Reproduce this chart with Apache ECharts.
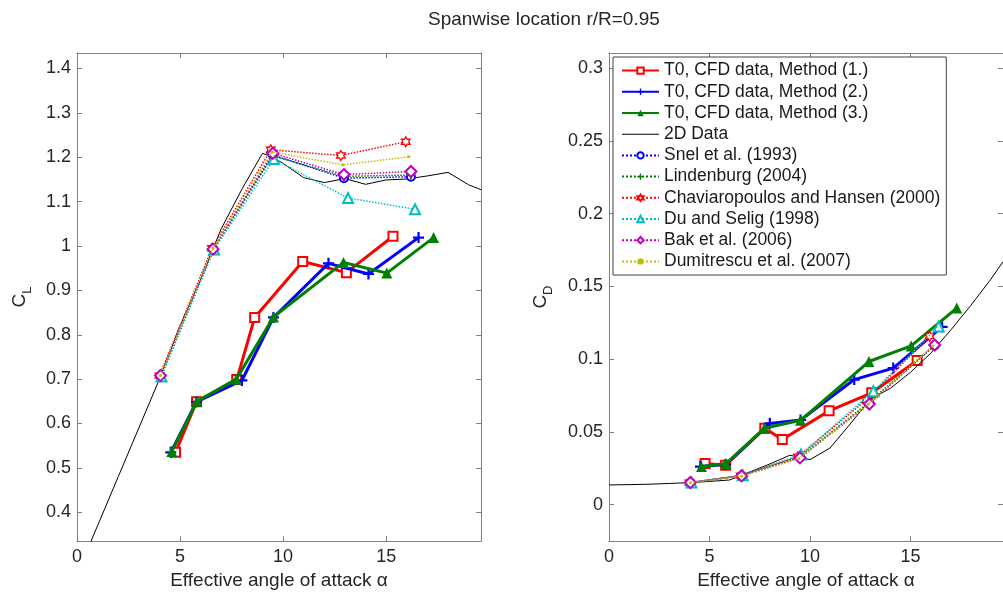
<!DOCTYPE html>
<html>
<head>
<meta charset="utf-8">
<script src="https://cdn.jsdelivr.net/npm/echarts@6/dist/echarts.min.js"></script>
<style>
  html, body { margin: 0; padding: 0; background: #fff; }
  #chart { width: 1003px; height: 595px; }
</style>
</head>
<body>
<div id="chart"></div>
<script>
// ---- Text ----
const titleText = 'Spanwise location r/R=0.95';
const xName = 'Effective angle of attack \u03b1';
const names = [
  'T0, CFD data, Method (1.)',
  'T0, CFD data, Method (2.)',
  'T0, CFD data, Method (3.)',
  '2D Data',
  'Snel et al. (1993)',
  'Lindenburg (2004)',
  'Chaviaropoulos and Hansen (2000)',
  'Du and Selig (1998)',
  'Bak et al. (2006)',
  'Dumitrescu et al. (2007)'
];

// ---- Tick values ----
const xTicks = [0, 5, 10, 15];
const clTicks = [0.4, 0.5, 0.6, 0.7, 0.8, 0.9, 1.0, 1.1, 1.2, 1.3, 1.4];
const cdTicks = [0, 0.05, 0.1, 0.15, 0.2, 0.25, 0.3];

// ---- CFD results (three extraction methods) ----
const m1Alpha = [4.78, 5.80, 7.75, 8.62, 10.95, 13.07, 15.33];
const m1Cl    = [0.535, 0.649, 0.699, 0.839, 0.965, 0.940, 1.022];
const m1Cd    = [0.0283, 0.0272, 0.0525, 0.0448, 0.0645, 0.0769, 0.0991];

const m2Alpha = [4.55, 5.80, 8.00, 9.53, 12.20, 14.14, 16.57];
const m2Cl    = [0.535, 0.649, 0.697, 0.839, 0.961, 0.937, 1.019];
const m2Cd    = [0.0262, 0.0276, 0.0559, 0.0582, 0.0860, 0.0939, 0.1222];

const m3Alpha = [4.60, 5.82, 7.73, 9.53, 12.93, 15.03, 17.30];
const m3Cl    = [0.537, 0.650, 0.700, 0.840, 0.963, 0.939, 1.019];
const m3Cd    = [0.0262, 0.0283, 0.0525, 0.0580, 0.0984, 0.1091, 0.1351];

// ---- 2D airfoil polar ----
const alpha2D = [0, 1, 2, 3, 4, 5, 6, 7, 8, 9, 9.5, 10, 11, 12, 13, 14, 15, 16, 17, 18, 19, 19.6];
const cl2D    = [0.26, 0.37, 0.48, 0.59, 0.70, 0.82, 0.925, 1.039, 1.128, 1.209, 1.200, 1.186, 1.154,
                 1.143, 1.152, 1.139, 1.149, 1.151, 1.158, 1.166, 1.138, 1.127];
const cd2D    = [0.0136, 0.0138, 0.0141, 0.0146, 0.0152, 0.0160, 0.0170, 0.0225, 0.0280, 0.0340, 0.0325,
                 0.0310, 0.0390, 0.0555, 0.0725, 0.0800, 0.0910, 0.1040, 0.1200, 0.1370, 0.1550, 0.1670];

// ---- Rotational correction models ----
const snelAlpha = [4.05, 6.60, 9.50, 12.95, 16.20];
const snelCl    = [0.707, 0.993, 1.205, 1.153, 1.156];
const snelCd    = [0.0152, 0.0199, 0.0325, 0.0700, 0.1095];

const lindAlpha = [4.05, 6.60, 9.50, 12.95, 16.20];
const lindCl    = [0.708, 0.994, 1.203, 1.157, 1.160];
const lindCd    = [0.0152, 0.0200, 0.0330, 0.0705, 0.1100];

const chavAlpha = [4.00, 6.55, 9.40, 12.80, 15.95];
const chavCl    = [0.708, 0.995, 1.217, 1.204, 1.235];
const chavCd    = [0.0152, 0.0200, 0.0330, 0.0720, 0.1158];

const duAlpha = [4.10, 6.65, 9.55, 13.15, 16.40];
const duCl    = [0.706, 0.992, 1.196, 1.108, 1.083];
const duCd    = [0.0153, 0.0202, 0.0345, 0.0780, 0.1225];

const bakAlpha = [4.05, 6.60, 9.50, 12.95, 16.20];
const bakCl    = [0.708, 0.993, 1.209, 1.161, 1.168];
const bakCd    = [0.0152, 0.0198, 0.0322, 0.0692, 0.1097];

const dumAlpha = [4.05, 6.60, 9.45, 12.90, 16.10];
const dumCl    = [0.708, 0.995, 1.212, 1.183, 1.201];
const dumCd    = [0.0151, 0.0196, 0.0318, 0.0690, 0.1090];

// ---- Helpers ----
const zip = (xs, ys) => xs.map((x, i) => [x, ys[i]]);
const fmt = v => String(+v.toFixed(3));

const FONT = '"Liberation Sans", Arial, sans-serif';
const AXIS_GRAY = '#7f7f7f';
const TEXT = '#262626';

const PLUS = 'path://M4,0H6V4H10V6H6V10H4V6H0V4H4Z';
const HEXAGRAM = 'path://M0,-10L2.887,-5L8.66,-5L5.774,0L8.66,5L2.887,5L0,10L-2.887,5L-8.66,5L-5.774,0L-8.66,-5L-2.887,-5Z';

// Style of each curve, keyed by legend order
const styles = [
  { color: '#ff0000', width: 3,   type: 'solid',  symbol: 'emptyRect',     size: 9,  border: 2 },
  { color: '#0000ff', width: 3,   type: 'solid',  symbol: PLUS,            size: 11, border: 0 },
  { color: '#008000', width: 3,   type: 'solid',  symbol: 'triangle',      size: 11, border: 0 },
  { color: '#000000', width: 1,   type: 'solid',  symbol: 'none',          size: 0,  border: 0 },
  { color: '#0000ff', width: 1.5, type: 'dotted', symbol: 'emptyCircle',   size: 8,  border: 1.5 },
  { color: '#008000', width: 1.5, type: 'dotted', symbol: PLUS,            size: 9,  border: 0 },
  { color: '#ff0000', width: 1.5, type: 'dotted', symbol: HEXAGRAM,        size: 10, border: 1.3, hollow: true },
  { color: '#00bfbf', width: 1.5, type: 'dotted', symbol: 'emptyTriangle', size: 10, border: 1.5 },
  { color: '#bf00bf', width: 1.5, type: 'dotted', symbol: 'emptyDiamond',  size: 11, border: 1.5 },
  { color: '#bfbf00', width: 1.5, type: 'dotted', symbol: 'circle',        size: 3,  border: 0 }
];

const clData = [
  zip(m1Alpha, m1Cl), zip(m2Alpha, m2Cl), zip(m3Alpha, m3Cl), zip(alpha2D, cl2D),
  zip(snelAlpha, snelCl), zip(lindAlpha, lindCl), zip(chavAlpha, chavCl),
  zip(duAlpha, duCl), zip(bakAlpha, bakCl), zip(dumAlpha, dumCl)
];
const cdData = [
  zip(m1Alpha, m1Cd), zip(m2Alpha, m2Cd), zip(m3Alpha, m3Cd), zip(alpha2D, cd2D),
  zip(snelAlpha, snelCd), zip(lindAlpha, lindCd), zip(chavAlpha, chavCd),
  zip(duAlpha, duCd), zip(bakAlpha, bakCd), zip(dumAlpha, dumCd)
];

function makeSeries(data, axisIndex) {
  return data.map((d, i) => {
    const s = styles[i];
    return {
      name: names[i],
      type: 'line',
      xAxisIndex: axisIndex,
      yAxisIndex: axisIndex,
      data: d,
      symbol: s.symbol,
      symbolSize: s.size,
      symbolKeepAspect: true,
      showSymbol: s.symbol !== 'none',
      clip: true,
      z: 2 + i,
      lineStyle: { color: s.color, width: s.width, type: s.type },
      itemStyle: {
        color: s.hollow ? '#ffffff' : s.color,
        borderColor: s.color,
        borderWidth: s.border
      },
      emphasis: { disabled: true }
    };
  });
}

function xAxisPair(grid, min, max) {
  const base = {
    gridIndex: grid, type: 'value', min: min, max: max,
    splitLine: { show: false },
    axisLine: { show: true, onZero: false, lineStyle: { color: AXIS_GRAY, width: 1 } },
    axisTick: { show: true, inside: true, length: 5, customValues: xTicks, lineStyle: { color: AXIS_GRAY } }
  };
  return [
    Object.assign({}, base, {
      position: 'bottom',
      axisLabel: { customValues: xTicks, formatter: fmt, fontSize: 18, fontFamily: FONT, color: TEXT, margin: 7 },
      name: xName, nameLocation: 'middle', nameGap: 28,
      nameTextStyle: { fontSize: 19, fontFamily: FONT, color: TEXT }
    }),
    Object.assign({}, base, { position: 'top', axisLabel: { show: false } })
  ];
}

function yAxisPair(grid, min, max, ticks, sub, gap) {
  const base = {
    gridIndex: grid, type: 'value', min: min, max: max,
    splitLine: { show: false },
    axisLine: { show: true, onZero: false, lineStyle: { color: AXIS_GRAY, width: 1 } },
    axisTick: { show: true, inside: true, length: 5, customValues: ticks, lineStyle: { color: AXIS_GRAY } }
  };
  return [
    Object.assign({}, base, {
      position: 'left',
      axisLabel: { customValues: ticks, formatter: fmt, fontSize: 18, fontFamily: FONT, color: TEXT, margin: 6 },
      name: '{c|C}{s|' + sub + '}', nameLocation: 'middle', nameRotate: 90, nameGap: gap,
      nameTextStyle: {
        fontFamily: FONT, color: TEXT,
        rich: {
          c: { fontSize: 19, fontFamily: FONT, color: TEXT, lineHeight: 28, verticalAlign: 'middle' },
          s: { fontSize: 13, fontFamily: FONT, color: TEXT, lineHeight: 13, verticalAlign: 'bottom' }
        }
      }
    }),
    Object.assign({}, base, { position: 'right', axisLabel: { show: false } })
  ];
}

const chart = echarts.init(document.getElementById('chart'), null, { renderer: 'canvas' });

chart.setOption({
  animation: false,
  backgroundColor: '#ffffff',
  title: {
    text: titleText, left: 428, top: 10, padding: 0,
    textStyle: { fontSize: 19, fontWeight: 'normal', fontFamily: FONT, color: TEXT }
  },
  grid: [
    { left: 77, top: 53, width: 404, height: 493 },
    { left: 609, top: 53, width: 405, height: 493 }
  ],
  xAxis: [].concat(xAxisPair(0, 0, 19.6), xAxisPair(1, 0, 19.6)),
  yAxis: [].concat(
    yAxisPair(0, 0.335, 1.435, clTicks, 'L', 43),
    yAxisPair(1, -0.025, 0.3104, cdTicks, 'D', 54)
  ),
  legend: {
    orient: 'vertical',
    left: 613, top: 57,
    padding: [3, 6, 3, 8],
    itemWidth: 37, itemHeight: 8, itemGap: 0,
    selectedMode: false,
    backgroundColor: '#ffffff',
    borderColor: '#404040', borderWidth: 1,
    textStyle: { fontSize: 17.5, fontFamily: FONT, color: '#1a1a1a', lineHeight: 21.2 },
    data: names.map((n, i) => i === 3 ? { name: n, icon: 'path://M0,0H37V1H0Z' } : { name: n })
  },
  series: [].concat(makeSeries(clData, 0), makeSeries(cdData, 2))
});
</script>
</body>
</html>
